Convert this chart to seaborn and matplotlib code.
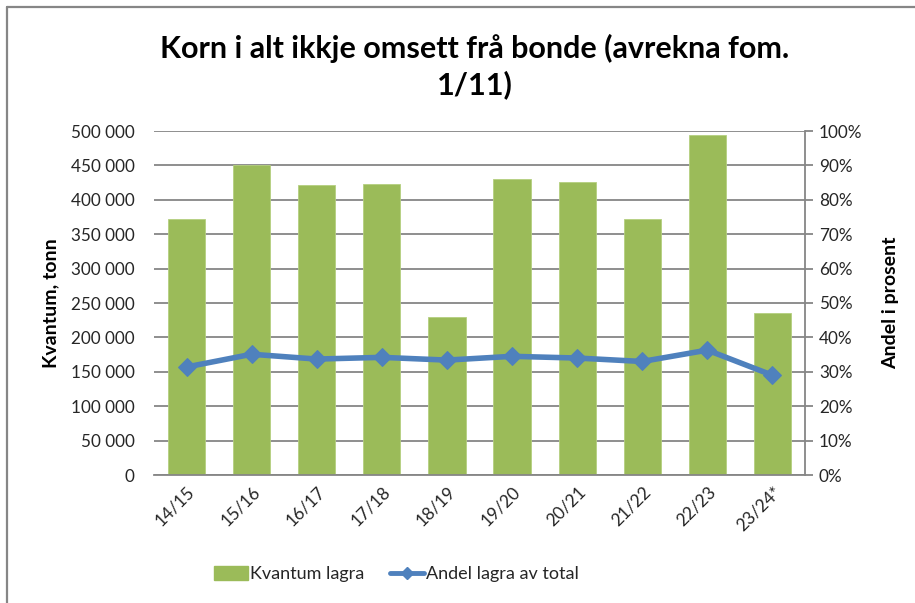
import matplotlib
matplotlib.use("Agg")
import matplotlib.pyplot as plt
import matplotlib.ticker as mticker
from matplotlib.lines import Line2D
from matplotlib.patches import Patch
import seaborn as sns
import pandas as pd

seasons = ["14/15", "15/16", "16/17", "17/18", "18/19", "19/20", "20/21", "21/22", "22/23", "23/24*"]
kvantum = [372000, 451000, 422000, 423500, 229500, 430500, 426000, 372000, 494000, 235000]
andel = [0.314, 0.351, 0.337, 0.342, 0.334, 0.345, 0.340, 0.330, 0.363, 0.290]

title = "Korn i alt ikkje omsett frå bonde (avrekna fom.\n1/11)"
ylabel_left = "Kvantum, tonn"
ylabel_right = "Andel i prosent"
legend_bar = "Kvantum lagra"
legend_line = "Andel lagra av total"

GREEN = "#9BBB59"
BLUE = "#4F81BD"
GRID = "#868686"
TXT = "#262626"

sns.set_theme(style="white")
plt.rcParams["font.family"] = ["Lato", "DejaVu Sans"]

df = pd.DataFrame({"season": seasons, "kvantum": kvantum, "andel": andel})

fig = plt.figure(figsize=(9.15, 6.03), dpi=100)
ax = fig.add_axes([154 / 915, 1 - 475 / 603, (805 - 154) / 915, (475 - 131) / 603])

sns.barplot(data=df, x="season", y="kvantum", color=GREEN, width=0.57,
            edgecolor="#B5CF7F", linewidth=0.6, saturation=1, ax=ax, zorder=2)
ax.set_ylim(0, 500000)
ax.set_xlim(-0.5, len(seasons) - 0.5)
ax.yaxis.set_major_locator(mticker.MultipleLocator(50000))
ax.yaxis.set_major_formatter(mticker.FuncFormatter(lambda v, p: f"{int(v):,}".replace(",", " ")))
ax.grid(axis="y", color=GRID, linewidth=1.3, zorder=0)
ax.set_axisbelow(True)
for s in ["left", "top", "right"]:
    ax.spines[s].set_visible(False)
ax.spines["bottom"].set_color(GRID)
ax.spines["bottom"].set_linewidth(1.3)
ax.tick_params(axis="y", length=0, pad=14, labelsize=12.3, labelcolor=TXT)
ax.tick_params(axis="x", length=0, pad=6, labelsize=12.5, labelcolor=TXT)
plt.setp(ax.get_xticklabels(), rotation=45, ha="right", rotation_mode="anchor")
ax.set_xlabel("")
ax.set_ylabel(ylabel_left, fontsize=14, fontweight="bold", color="black", labelpad=8)

ax2 = ax.twinx()
sns.lineplot(data=df, x="season", y="andel", color=BLUE, linewidth=4, marker="D",
             markersize=9.5, markeredgecolor=BLUE, ax=ax2, zorder=5, sort=False)
ax2.set_ylim(0, 1)
ax2.set_xlim(-0.5, len(seasons) - 0.5)
ax2.yaxis.set_major_locator(mticker.MultipleLocator(0.1))
ax2.yaxis.set_major_formatter(mticker.FuncFormatter(lambda v, p: f"{int(round(v * 100))}%"))
for s in ["left", "top", "bottom"]:
    ax2.spines[s].set_visible(False)
ax2.spines["right"].set_color(GRID)
ax2.spines["right"].set_linewidth(1.3)
ax2.tick_params(axis="y", length=6, width=1.3, color=GRID, pad=4, labelsize=12.3, labelcolor=TXT)
ax2.set_ylabel(ylabel_right, fontsize=14, fontweight="bold", color="black", labelpad=14)
ax2.set_xlabel("")
ax2.grid(False)

fig.text(0.519, 0.889, title, ha="center", va="center", fontsize=22, fontweight="bold",
         color="black", linespacing=1.3)

handles = [Patch(facecolor=GREEN, edgecolor=GREEN),
           Line2D([0], [0], color=BLUE, linewidth=3.5, marker="D", markersize=6)]
fig.legend(handles, [legend_bar, legend_line], loc="center", bbox_to_anchor=(0.433, 0.048),
           ncol=2, frameon=False, fontsize=13, handlelength=1.9, handleheight=0.8,
           columnspacing=1.4, handletextpad=0.12)

# frame lines of the chart border (top and left)
fig.add_artist(Line2D([7 / 915, 7 / 915], [0, 1 - 7 / 603], color=GRID, linewidth=1.6,
                      transform=fig.transFigure))
fig.add_artist(Line2D([7 / 915, 1], [1 - 7 / 603, 1 - 7 / 603], color=GRID, linewidth=1.6,
                      transform=fig.transFigure))

fig.savefig("out.png", dpi=100)
